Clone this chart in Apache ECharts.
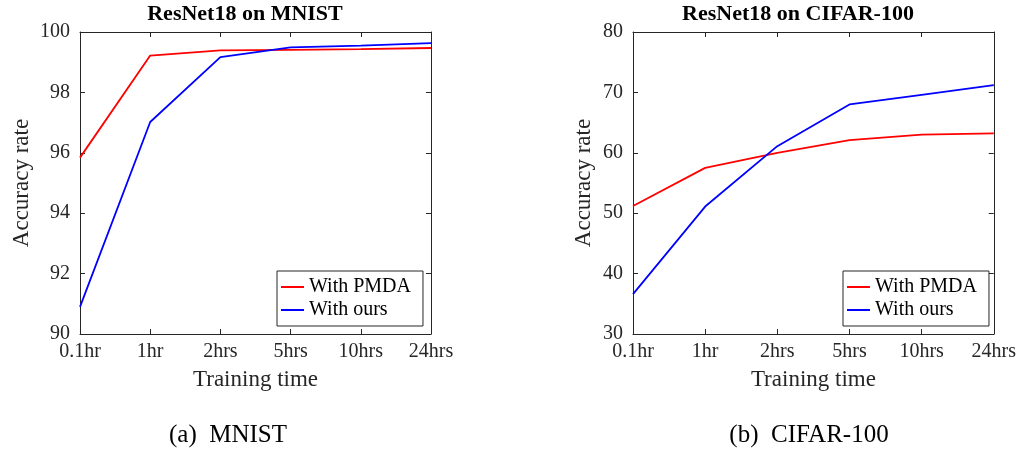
<!DOCTYPE html>
<html>
<head>
<meta charset="utf-8">
<title>ResNet18 accuracy vs training time</title>
<script src="https://cdn.jsdelivr.net/npm/echarts@6/dist/echarts.min.js"></script>
<style>
  html, body { margin: 0; padding: 0; background: #fff; }
  #chart { width: 1019px; height: 452px; }
</style>
</head>
<body>
<div id="chart"></div>
<script>
const trainingTimes = ["0.1hr", "1hr", "2hrs", "5hrs", "10hrs", "24hrs"];

const mnistPmda = [95.84, 99.22, 99.39, 99.41, 99.43, 99.47];
const mnistOurs = [90.9, 97.02, 99.17, 99.49, 99.55, 99.63];

const cifarPmda = [51.2, 57.5, 60.0, 62.1, 63.0, 63.2];
const cifarOurs = [36.6, 51.1, 61.1, 68.0, 69.6, 71.2];

const mnistRange = { min: 90, max: 100, interval: 2 };
const cifarRange = { min: 30, max: 80, interval: 10 };

const font = "Liberation Serif";
const ink = "#262626";

const chart = echarts.init(document.getElementById("chart"), null, { renderer: "canvas" });

const axisLine = { lineStyle: { color: ink, width: 1 } };
const tickInside = { inside: true, length: 5, lineStyle: { color: ink } };
const tickLabel = { color: ink, fontFamily: font, fontSize: 20 };

function bottomAxis(gridIndex) {
  return {
    type: "category",
    gridIndex,
    data: trainingTimes,
    boundaryGap: false,
    axisLine,
    axisTick: { ...tickInside, alignWithLabel: true },
    axisLabel: { ...tickLabel, margin: 8, interval: 0 },
    name: "Training time",
    nameLocation: "middle",
    nameGap: 34,
    nameTextStyle: { color: ink, fontFamily: font, fontSize: 23 },
  };
}

function topAxis(gridIndex) {
  return {
    type: "category",
    gridIndex,
    position: "top",
    data: trainingTimes,
    boundaryGap: false,
    axisLine,
    axisTick: tickInside,
    axisLabel: { show: false },
  };
}

function leftAxis(gridIndex, range, gap) {
  return {
    type: "value",
    gridIndex,
    ...range,
    axisLine: { show: true, ...axisLine },
    axisTick: { show: true, ...tickInside },
    axisLabel: { ...tickLabel, margin: 10 },
    splitLine: { show: false },
    name: "Accuracy rate",
    nameLocation: "middle",
    nameGap: gap,
    nameRotate: 90,
    nameTextStyle: { color: ink, fontFamily: font, fontSize: 23 },
  };
}

function rightAxis(gridIndex, range) {
  return {
    type: "value",
    gridIndex,
    position: "right",
    ...range,
    axisLine: { show: true, ...axisLine },
    axisTick: { show: true, ...tickInside },
    axisLabel: { show: false },
    splitLine: { show: false },
  };
}

function line(name, data, color, xIdx, yIdx) {
  return {
    name,
    type: "line",
    data,
    xAxisIndex: xIdx,
    yAxisIndex: yIdx,
    showSymbol: false,
    color,
    lineStyle: { color, width: 1.8 },
  };
}

function legendAt(left) {
  return {
    left,
    top: 271,
    orient: "vertical",
    data: ["With PMDA", "With ours"],
    icon: "rect",
    itemWidth: 23,
    itemHeight: 2,
    itemGap: 3,
    padding: [6, 12, 6, 4],
    borderColor: ink,
    borderWidth: 1,
    backgroundColor: "#fff",
    textStyle: { color: "#000", fontFamily: font, fontSize: 20 },
  };
}

function label(text, x, y, size, weight) {
  return {
    type: "text",
    x,
    y,
    style: {
      text,
      fill: "#000",
      fontFamily: font,
      fontSize: size,
      fontWeight: weight,
      align: "center",
      verticalAlign: "middle",
    },
  };
}

chart.setOption({
  animation: false,
  grid: [
    { left: 80, top: 32, width: 351, height: 302 },
    { left: 633, top: 32, width: 364, height: 302 },
  ],
  xAxis: [bottomAxis(0), topAxis(0), bottomAxis(1), topAxis(1)],
  yAxis: [leftAxis(0, mnistRange, 47), rightAxis(0, mnistRange), leftAxis(1, cifarRange, 38), rightAxis(1, cifarRange)],
  legend: [legendAt(277), legendAt(843)],
  series: [
    line("With PMDA", mnistPmda, "#ff0000", 0, 0),
    line("With ours", mnistOurs, "#0000ff", 0, 0),
    line("With PMDA", cifarPmda, "#ff0000", 2, 2),
    line("With ours", cifarOurs, "#0000ff", 2, 2),
  ],
  graphic: [
    label("ResNet18 on MNIST", 245, 14, 22, "bold"),
    label("ResNet18 on CIFAR-100", 798, 14, 22, "bold"),
    label("(a)  MNIST", 228, 435, 25, "normal"),
    label("(b)  CIFAR-100", 809, 435, 25, "normal"),
  ],
});

window.addEventListener("resize", () => chart.resize());
</script>
</body>
</html>
